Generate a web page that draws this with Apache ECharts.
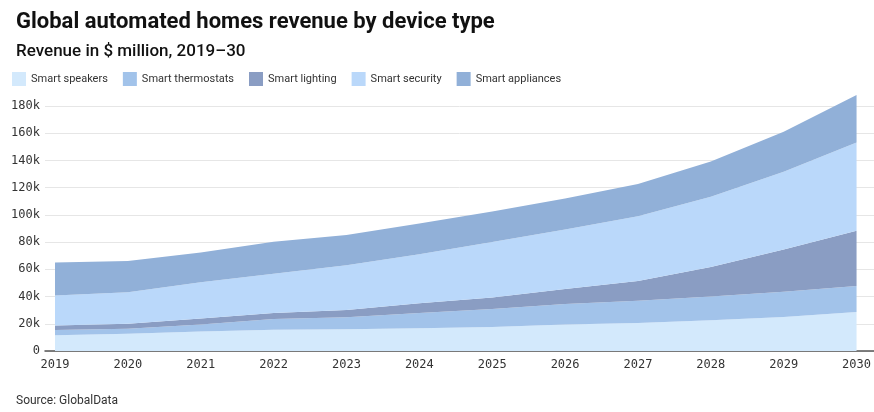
<!DOCTYPE html>
<html>
<head>
<meta charset="utf-8">
<script src="https://cdn.jsdelivr.net/npm/echarts@6/dist/echarts.min.js"></script>
<style>
  html, body { margin: 0; padding: 0; background: #fff; }
  #chart { width: 874px; height: 412px; }
</style>
</head>
<body>
<div id="chart"></div>
<script>
// Years on the category axis
const years = ['2019', '2020', '2021', '2022', '2023', '2024', '2025', '2026', '2027', '2028', '2029', '2030'];

// Revenue by device type, $ million (stacked bottom to top)
const smartSpeakers    = [11500, 12600, 14300, 15700, 16000, 16700, 17600, 19400, 20600, 22600, 25000, 28700];
const smartThermostats = [4000, 3700, 5200, 7800, 8800, 11300, 13200, 15100, 16300, 17400, 18500, 19000];
const smartLighting    = [3200, 3800, 4300, 4500, 5400, 7000, 8500, 11000, 14600, 21800, 31000, 40600];
const smartSecurity    = [22100, 23100, 26700, 28800, 32800, 36000, 40700, 43800, 47500, 51500, 57200, 64900];
const smartAppliances  = [24300, 23000, 21800, 23500, 22300, 22600, 22500, 22800, 23700, 26000, 29300, 34800];

// Value-axis ticks
const yMin = 0;
const yMax = 180000;
const yStep = 20000;

const seriesDefs = [
  { name: 'Smart speakers', data: smartSpeakers, color: '#d3e9fc' },
  { name: 'Smart thermostats', data: smartThermostats, color: '#a2c3ea' },
  { name: 'Smart lighting', data: smartLighting, color: '#8a9dc3' },
  { name: 'Smart security', data: smartSecurity, color: '#bad8fa' },
  { name: 'Smart appliances', data: smartAppliances, color: '#91b0d8' }
];

const monoFont = '"DejaVu Sans Mono", monospace';
const sansFont = 'Roboto, "Noto Sans", sans-serif';

const chart = echarts.init(document.getElementById('chart'), null, { renderer: 'canvas' });

const gridTop = 106;
const gridBottom = 61;

chart.setOption({
  animation: false,
  backgroundColor: '#ffffff',
  title: [
    {
      text: 'Global automated homes revenue by device type',
      left: 11, top: 6,
      textStyle: { fontFamily: sansFont, fontSize: 22, fontWeight: 'bold', color: '#111' }
    },
    {
      text: 'Revenue in $ million, 2019–30',
      left: 11, top: 38,
      textStyle: { fontFamily: sansFont, fontSize: 17, fontWeight: 500, color: '#111' }
    },
    {
      text: 'Source: GlobalData',
      left: 11, top: 390,
      textStyle: { fontFamily: sansFont, fontSize: 12, fontWeight: 'normal', color: '#333' }
    }
  ],
  legend: {
    left: 12, top: 72,
    padding: 0,
    icon: 'rect',
    itemWidth: 14, itemHeight: 14,
    itemGap: 15,
    selectedMode: false,
    textStyle: { fontFamily: sansFont, fontSize: 11, color: '#333' },
    data: seriesDefs.map(s => s.name)
  },
  grid: [
    // frame with gridlines and the baseline
    { left: 45, right: 0, top: gridTop, bottom: gridBottom },
    // plotting area for the stacked areas
    { left: 55, right: 13, top: gridTop, bottom: gridBottom }
  ],
  xAxis: [
    {
      gridIndex: 0, type: 'value', min: 0, max: 1,
      axisLine: { show: true, lineStyle: { color: '#555', width: 1.5 } },
      axisTick: { show: false }, axisLabel: { show: false }, splitLine: { show: false }
    },
    {
      gridIndex: 1, type: 'category', data: years, boundaryGap: false,
      axisLine: { show: false }, axisTick: { show: false },
      axisLabel: { fontFamily: monoFont, fontSize: 12, color: '#333', margin: 8 },
      splitLine: { show: false }
    }
  ],
  yAxis: [
    {
      gridIndex: 0, type: 'value', min: yMin, max: yMax, interval: yStep,
      axisLine: { show: false }, axisTick: { show: false },
      axisLabel: {
        fontFamily: monoFont, fontSize: 12, color: '#333', margin: 5,
        formatter: v => v === 0 ? '0' : (v / 1000) + 'k'
      },
      splitLine: { show: true, lineStyle: { color: '#e6e6e6', width: 1 } }
    },
    {
      gridIndex: 1, type: 'value', min: yMin, max: yMax, interval: yStep,
      show: false, splitLine: { show: false }
    }
  ],
  series: seriesDefs.map((s, i) => ({
    name: s.name,
    type: 'line',
    xAxisIndex: 1, yAxisIndex: 1,
    stack: 'revenue',
    data: s.data,
    clip: false,
    symbol: 'none',
    silent: true,
    z: 2,
    itemStyle: { color: s.color },
    lineStyle: { width: 0, color: s.color },
    areaStyle: { color: s.color, opacity: 1 }
  }))
});
</script>
</body>
</html>
